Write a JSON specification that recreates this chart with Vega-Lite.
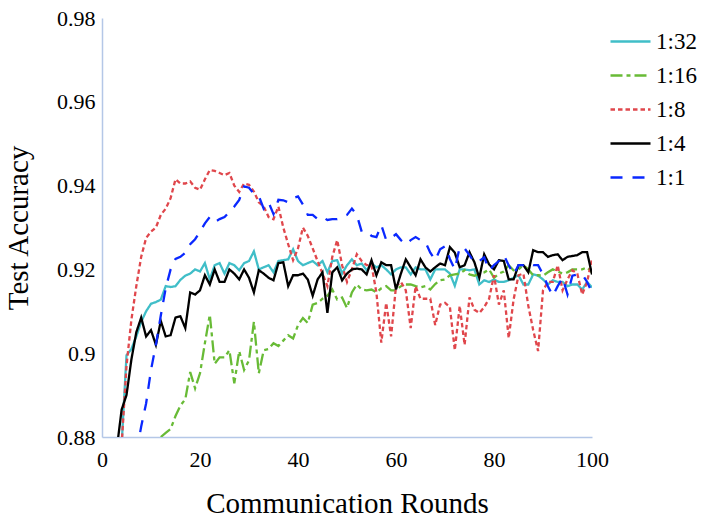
{
  "$schema": "https://vega.github.io/schema/vega-lite/v6.json",
  "width": 490,
  "height": 419,
  "autosize": {"type": "none"},
  "padding": {"left": 102, "top": 18, "right": 114, "bottom": 84},
  "background": "#ffffff",
  "config": {
    "font": "Liberation Serif",
    "view": {"stroke": null},
    "axis": {
      "domainColor": "#b4c7e7",
      "domainWidth": 1.5,
      "ticks": false,
      "grid": false,
      "labelFont": "Liberation Serif",
      "labelFontSize": 22,
      "labelColor": "#000000",
      "titleFont": "Liberation Serif",
      "titleFontSize": 29,
      "titleFontWeight": "normal",
      "titleColor": "#000000"
    },
    "legend": {
      "labelFont": "Liberation Serif",
      "labelFontSize": 23,
      "labelColor": "#000000"
    }
  },
  "data": {
    "values": [
      {"ratio":"1:32","round":4,"acc":0.878},{"ratio":"1:32","round":5,"acc":0.8995},{"ratio":"1:32","round":6,"acc":0.901},{"ratio":"1:32","round":7,"acc":0.904},{"ratio":"1:32","round":8,"acc":0.9075},{"ratio":"1:32","round":9,"acc":0.91},{"ratio":"1:32","round":10,"acc":0.9118},{"ratio":"1:32","round":11,"acc":0.9122},{"ratio":"1:32","round":12,"acc":0.9128},{"ratio":"1:32","round":13,"acc":0.916},{"ratio":"1:32","round":14,"acc":0.9158},{"ratio":"1:32","round":15,"acc":0.916},{"ratio":"1:32","round":16,"acc":0.9175},{"ratio":"1:32","round":17,"acc":0.9185},{"ratio":"1:32","round":18,"acc":0.919},{"ratio":"1:32","round":19,"acc":0.92},{"ratio":"1:32","round":20,"acc":0.9195},{"ratio":"1:32","round":21,"acc":0.9215},{"ratio":"1:32","round":22,"acc":0.9176},{"ratio":"1:32","round":23,"acc":0.921},{"ratio":"1:32","round":24,"acc":0.9215},{"ratio":"1:32","round":25,"acc":0.919},{"ratio":"1:32","round":26,"acc":0.9215},{"ratio":"1:32","round":27,"acc":0.921},{"ratio":"1:32","round":28,"acc":0.9198},{"ratio":"1:32","round":29,"acc":0.9215},{"ratio":"1:32","round":30,"acc":0.922},{"ratio":"1:32","round":31,"acc":0.9243},{"ratio":"1:32","round":32,"acc":0.92},{"ratio":"1:32","round":33,"acc":0.9205},{"ratio":"1:32","round":34,"acc":0.921},{"ratio":"1:32","round":35,"acc":0.9193},{"ratio":"1:32","round":36,"acc":0.922},{"ratio":"1:32","round":37,"acc":0.9222},{"ratio":"1:32","round":38,"acc":0.9224},{"ratio":"1:32","round":39,"acc":0.9248},{"ratio":"1:32","round":40,"acc":0.922},{"ratio":"1:32","round":41,"acc":0.921},{"ratio":"1:32","round":42,"acc":0.9215},{"ratio":"1:32","round":43,"acc":0.922},{"ratio":"1:32","round":44,"acc":0.921},{"ratio":"1:32","round":45,"acc":0.922},{"ratio":"1:32","round":46,"acc":0.9193},{"ratio":"1:32","round":47,"acc":0.922},{"ratio":"1:32","round":48,"acc":0.9222},{"ratio":"1:32","round":49,"acc":0.919},{"ratio":"1:32","round":50,"acc":0.921},{"ratio":"1:32","round":51,"acc":0.9224},{"ratio":"1:32","round":52,"acc":0.921},{"ratio":"1:32","round":53,"acc":0.9214},{"ratio":"1:32","round":54,"acc":0.9198},{"ratio":"1:32","round":55,"acc":0.9214},{"ratio":"1:32","round":56,"acc":0.9205},{"ratio":"1:32","round":57,"acc":0.921},{"ratio":"1:32","round":58,"acc":0.92},{"ratio":"1:32","round":59,"acc":0.9188},{"ratio":"1:32","round":60,"acc":0.92},{"ratio":"1:32","round":61,"acc":0.9205},{"ratio":"1:32","round":62,"acc":0.9205},{"ratio":"1:32","round":63,"acc":0.9188},{"ratio":"1:32","round":64,"acc":0.9205},{"ratio":"1:32","round":65,"acc":0.92},{"ratio":"1:32","round":66,"acc":0.92},{"ratio":"1:32","round":67,"acc":0.9176},{"ratio":"1:32","round":68,"acc":0.92},{"ratio":"1:32","round":69,"acc":0.92},{"ratio":"1:32","round":70,"acc":0.92},{"ratio":"1:32","round":71,"acc":0.919},{"ratio":"1:32","round":72,"acc":0.9161},{"ratio":"1:32","round":73,"acc":0.92},{"ratio":"1:32","round":74,"acc":0.92},{"ratio":"1:32","round":75,"acc":0.9198},{"ratio":"1:32","round":76,"acc":0.92},{"ratio":"1:32","round":77,"acc":0.9164},{"ratio":"1:32","round":78,"acc":0.9174},{"ratio":"1:32","round":79,"acc":0.917},{"ratio":"1:32","round":80,"acc":0.9176},{"ratio":"1:32","round":81,"acc":0.917},{"ratio":"1:32","round":82,"acc":0.917},{"ratio":"1:32","round":83,"acc":0.9174},{"ratio":"1:32","round":84,"acc":0.918},{"ratio":"1:32","round":85,"acc":0.9186},{"ratio":"1:32","round":86,"acc":0.9164},{"ratio":"1:32","round":87,"acc":0.9164},{"ratio":"1:32","round":88,"acc":0.9188},{"ratio":"1:32","round":89,"acc":0.9185},{"ratio":"1:32","round":90,"acc":0.9176},{"ratio":"1:32","round":91,"acc":0.9164},{"ratio":"1:32","round":92,"acc":0.9174},{"ratio":"1:32","round":93,"acc":0.917},{"ratio":"1:32","round":94,"acc":0.917},{"ratio":"1:32","round":95,"acc":0.916},{"ratio":"1:32","round":96,"acc":0.9164},{"ratio":"1:32","round":97,"acc":0.9164},{"ratio":"1:32","round":98,"acc":0.9152},{"ratio":"1:32","round":99,"acc":0.917},{"ratio":"1:32","round":100,"acc":0.9157},

      {"ratio":"1:16","round":12,"acc":0.88},{"ratio":"1:16","round":13,"acc":0.881},{"ratio":"1:16","round":14,"acc":0.8819},{"ratio":"1:16","round":15,"acc":0.885},{"ratio":"1:16","round":16,"acc":0.8875},{"ratio":"1:16","round":17,"acc":0.889},{"ratio":"1:16","round":18,"acc":0.8955},{"ratio":"1:16","round":19,"acc":0.8916},{"ratio":"1:16","round":20,"acc":0.8952},{"ratio":"1:16","round":21,"acc":0.9024},{"ratio":"1:16","round":22,"acc":0.9092},{"ratio":"1:16","round":23,"acc":0.8975},{"ratio":"1:16","round":24,"acc":0.899},{"ratio":"1:16","round":25,"acc":0.899},{"ratio":"1:16","round":26,"acc":0.9007},{"ratio":"1:16","round":27,"acc":0.8928},{"ratio":"1:16","round":28,"acc":0.9005},{"ratio":"1:16","round":29,"acc":0.896},{"ratio":"1:16","round":30,"acc":0.8983},{"ratio":"1:16","round":31,"acc":0.9075},{"ratio":"1:16","round":32,"acc":0.8952},{"ratio":"1:16","round":33,"acc":0.9007},{"ratio":"1:16","round":34,"acc":0.901},{"ratio":"1:16","round":35,"acc":0.9024},{"ratio":"1:16","round":36,"acc":0.9017},{"ratio":"1:16","round":37,"acc":0.903},{"ratio":"1:16","round":38,"acc":0.9043},{"ratio":"1:16","round":39,"acc":0.9035},{"ratio":"1:16","round":40,"acc":0.9067},{"ratio":"1:16","round":41,"acc":0.9084},{"ratio":"1:16","round":42,"acc":0.9072},{"ratio":"1:16","round":43,"acc":0.9116},{"ratio":"1:16","round":44,"acc":0.912},{"ratio":"1:16","round":45,"acc":0.913},{"ratio":"1:16","round":46,"acc":0.9137},{"ratio":"1:16","round":47,"acc":0.9152},{"ratio":"1:16","round":48,"acc":0.9128},{"ratio":"1:16","round":49,"acc":0.9133},{"ratio":"1:16","round":50,"acc":0.9108},{"ratio":"1:16","round":51,"acc":0.9145},{"ratio":"1:16","round":52,"acc":0.9164},{"ratio":"1:16","round":53,"acc":0.9152},{"ratio":"1:16","round":54,"acc":0.915},{"ratio":"1:16","round":55,"acc":0.9152},{"ratio":"1:16","round":56,"acc":0.9145},{"ratio":"1:16","round":57,"acc":0.9155},{"ratio":"1:16","round":58,"acc":0.916},{"ratio":"1:16","round":59,"acc":0.915},{"ratio":"1:16","round":60,"acc":0.915},{"ratio":"1:16","round":61,"acc":0.916},{"ratio":"1:16","round":62,"acc":0.9164},{"ratio":"1:16","round":63,"acc":0.9164},{"ratio":"1:16","round":64,"acc":0.916},{"ratio":"1:16","round":65,"acc":0.9157},{"ratio":"1:16","round":66,"acc":0.916},{"ratio":"1:16","round":67,"acc":0.9152},{"ratio":"1:16","round":68,"acc":0.9165},{"ratio":"1:16","round":69,"acc":0.9174},{"ratio":"1:16","round":70,"acc":0.9176},{"ratio":"1:16","round":71,"acc":0.9186},{"ratio":"1:16","round":72,"acc":0.9188},{"ratio":"1:16","round":73,"acc":0.919},{"ratio":"1:16","round":74,"acc":0.9198},{"ratio":"1:16","round":75,"acc":0.9188},{"ratio":"1:16","round":76,"acc":0.9185},{"ratio":"1:16","round":77,"acc":0.919},{"ratio":"1:16","round":78,"acc":0.9193},{"ratio":"1:16","round":79,"acc":0.92},{"ratio":"1:16","round":80,"acc":0.918},{"ratio":"1:16","round":81,"acc":0.919},{"ratio":"1:16","round":82,"acc":0.9195},{"ratio":"1:16","round":83,"acc":0.921},{"ratio":"1:16","round":84,"acc":0.9198},{"ratio":"1:16","round":85,"acc":0.92},{"ratio":"1:16","round":86,"acc":0.921},{"ratio":"1:16","round":87,"acc":0.92},{"ratio":"1:16","round":88,"acc":0.9186},{"ratio":"1:16","round":89,"acc":0.9186},{"ratio":"1:16","round":90,"acc":0.9185},{"ratio":"1:16","round":91,"acc":0.9193},{"ratio":"1:16","round":92,"acc":0.92},{"ratio":"1:16","round":93,"acc":0.9195},{"ratio":"1:16","round":94,"acc":0.919},{"ratio":"1:16","round":95,"acc":0.9193},{"ratio":"1:16","round":96,"acc":0.92},{"ratio":"1:16","round":97,"acc":0.92},{"ratio":"1:16","round":98,"acc":0.92},{"ratio":"1:16","round":99,"acc":0.9205},{"ratio":"1:16","round":100,"acc":0.9193},

      {"ratio":"1:8","round":4,"acc":0.878},{"ratio":"1:8","round":5,"acc":0.897},{"ratio":"1:8","round":6,"acc":0.908},{"ratio":"1:8","round":7,"acc":0.916},{"ratio":"1:8","round":8,"acc":0.923},{"ratio":"1:8","round":9,"acc":0.9275},{"ratio":"1:8","round":10,"acc":0.929},{"ratio":"1:8","round":11,"acc":0.93},{"ratio":"1:8","round":12,"acc":0.933},{"ratio":"1:8","round":13,"acc":0.9345},{"ratio":"1:8","round":14,"acc":0.937},{"ratio":"1:8","round":15,"acc":0.9415},{"ratio":"1:8","round":16,"acc":0.9405},{"ratio":"1:8","round":17,"acc":0.9405},{"ratio":"1:8","round":18,"acc":0.941},{"ratio":"1:8","round":19,"acc":0.9395},{"ratio":"1:8","round":20,"acc":0.939},{"ratio":"1:8","round":21,"acc":0.9415},{"ratio":"1:8","round":22,"acc":0.9437},{"ratio":"1:8","round":23,"acc":0.9435},{"ratio":"1:8","round":24,"acc":0.943},{"ratio":"1:8","round":25,"acc":0.9425},{"ratio":"1:8","round":26,"acc":0.943},{"ratio":"1:8","round":27,"acc":0.94},{"ratio":"1:8","round":28,"acc":0.9385},{"ratio":"1:8","round":29,"acc":0.9405},{"ratio":"1:8","round":30,"acc":0.9402},{"ratio":"1:8","round":31,"acc":0.9386},{"ratio":"1:8","round":32,"acc":0.936},{"ratio":"1:8","round":33,"acc":0.935},{"ratio":"1:8","round":34,"acc":0.9325},{"ratio":"1:8","round":35,"acc":0.932},{"ratio":"1:8","round":36,"acc":0.935},{"ratio":"1:8","round":37,"acc":0.93},{"ratio":"1:8","round":38,"acc":0.926},{"ratio":"1:8","round":39,"acc":0.9222},{"ratio":"1:8","round":40,"acc":0.925},{"ratio":"1:8","round":41,"acc":0.93},{"ratio":"1:8","round":42,"acc":0.928},{"ratio":"1:8","round":43,"acc":0.925},{"ratio":"1:8","round":44,"acc":0.922},{"ratio":"1:8","round":45,"acc":0.919},{"ratio":"1:8","round":46,"acc":0.916},{"ratio":"1:8","round":47,"acc":0.923},{"ratio":"1:8","round":48,"acc":0.927},{"ratio":"1:8","round":49,"acc":0.921},{"ratio":"1:8","round":50,"acc":0.917},{"ratio":"1:8","round":51,"acc":0.92},{"ratio":"1:8","round":52,"acc":0.9236},{"ratio":"1:8","round":53,"acc":0.922},{"ratio":"1:8","round":54,"acc":0.921},{"ratio":"1:8","round":55,"acc":0.921},{"ratio":"1:8","round":56,"acc":0.9145},{"ratio":"1:8","round":57,"acc":0.9025},{"ratio":"1:8","round":58,"acc":0.912},{"ratio":"1:8","round":59,"acc":0.904},{"ratio":"1:8","round":60,"acc":0.916},{"ratio":"1:8","round":61,"acc":0.917},{"ratio":"1:8","round":62,"acc":0.915},{"ratio":"1:8","round":63,"acc":0.906},{"ratio":"1:8","round":64,"acc":0.916},{"ratio":"1:8","round":65,"acc":0.913},{"ratio":"1:8","round":66,"acc":0.913},{"ratio":"1:8","round":67,"acc":0.913},{"ratio":"1:8","round":68,"acc":0.9067},{"ratio":"1:8","round":69,"acc":0.9116},{"ratio":"1:8","round":70,"acc":0.912},{"ratio":"1:8","round":71,"acc":0.911},{"ratio":"1:8","round":72,"acc":0.9007},{"ratio":"1:8","round":73,"acc":0.9113},{"ratio":"1:8","round":74,"acc":0.902},{"ratio":"1:8","round":75,"acc":0.9133},{"ratio":"1:8","round":76,"acc":0.9104},{"ratio":"1:8","round":77,"acc":0.9096},{"ratio":"1:8","round":78,"acc":0.911},{"ratio":"1:8","round":79,"acc":0.913},{"ratio":"1:8","round":80,"acc":0.9186},{"ratio":"1:8","round":81,"acc":0.9116},{"ratio":"1:8","round":82,"acc":0.915},{"ratio":"1:8","round":83,"acc":0.9036},{"ratio":"1:8","round":84,"acc":0.9128},{"ratio":"1:8","round":85,"acc":0.9186},{"ratio":"1:8","round":86,"acc":0.919},{"ratio":"1:8","round":87,"acc":0.9113},{"ratio":"1:8","round":88,"acc":0.9055},{"ratio":"1:8","round":89,"acc":0.9005},{"ratio":"1:8","round":90,"acc":0.915},{"ratio":"1:8","round":91,"acc":0.917},{"ratio":"1:8","round":92,"acc":0.917},{"ratio":"1:8","round":93,"acc":0.921},{"ratio":"1:8","round":94,"acc":0.915},{"ratio":"1:8","round":95,"acc":0.9176},{"ratio":"1:8","round":96,"acc":0.9198},{"ratio":"1:8","round":97,"acc":0.919},{"ratio":"1:8","round":98,"acc":0.914},{"ratio":"1:8","round":99,"acc":0.917},{"ratio":"1:8","round":100,"acc":0.9225},

      {"ratio":"1:4","round":3,"acc":0.877},{"ratio":"1:4","round":4,"acc":0.8865},{"ratio":"1:4","round":5,"acc":0.89},{"ratio":"1:4","round":6,"acc":0.8985},{"ratio":"1:4","round":7,"acc":0.905},{"ratio":"1:4","round":8,"acc":0.9085},{"ratio":"1:4","round":9,"acc":0.904},{"ratio":"1:4","round":10,"acc":0.9055},{"ratio":"1:4","round":11,"acc":0.902},{"ratio":"1:4","round":12,"acc":0.9077},{"ratio":"1:4","round":13,"acc":0.904},{"ratio":"1:4","round":14,"acc":0.9043},{"ratio":"1:4","round":15,"acc":0.9085},{"ratio":"1:4","round":16,"acc":0.9088},{"ratio":"1:4","round":17,"acc":0.906},{"ratio":"1:4","round":18,"acc":0.9145},{"ratio":"1:4","round":19,"acc":0.914},{"ratio":"1:4","round":20,"acc":0.915},{"ratio":"1:4","round":21,"acc":0.9186},{"ratio":"1:4","round":22,"acc":0.9164},{"ratio":"1:4","round":23,"acc":0.92},{"ratio":"1:4","round":24,"acc":0.917},{"ratio":"1:4","round":25,"acc":0.917},{"ratio":"1:4","round":26,"acc":0.92},{"ratio":"1:4","round":27,"acc":0.919},{"ratio":"1:4","round":28,"acc":0.9176},{"ratio":"1:4","round":29,"acc":0.92},{"ratio":"1:4","round":30,"acc":0.918},{"ratio":"1:4","round":31,"acc":0.9145},{"ratio":"1:4","round":32,"acc":0.9198},{"ratio":"1:4","round":33,"acc":0.919},{"ratio":"1:4","round":34,"acc":0.918},{"ratio":"1:4","round":35,"acc":0.9174},{"ratio":"1:4","round":36,"acc":0.9215},{"ratio":"1:4","round":37,"acc":0.9217},{"ratio":"1:4","round":38,"acc":0.916},{"ratio":"1:4","round":39,"acc":0.9186},{"ratio":"1:4","round":40,"acc":0.9186},{"ratio":"1:4","round":41,"acc":0.919},{"ratio":"1:4","round":42,"acc":0.9176},{"ratio":"1:4","round":43,"acc":0.9137},{"ratio":"1:4","round":44,"acc":0.9176},{"ratio":"1:4","round":45,"acc":0.9193},{"ratio":"1:4","round":46,"acc":0.9096},{"ratio":"1:4","round":47,"acc":0.9193},{"ratio":"1:4","round":48,"acc":0.9205},{"ratio":"1:4","round":49,"acc":0.9174},{"ratio":"1:4","round":50,"acc":0.919},{"ratio":"1:4","round":51,"acc":0.92},{"ratio":"1:4","round":52,"acc":0.9202},{"ratio":"1:4","round":53,"acc":0.92},{"ratio":"1:4","round":54,"acc":0.9188},{"ratio":"1:4","round":55,"acc":0.9222},{"ratio":"1:4","round":56,"acc":0.9186},{"ratio":"1:4","round":57,"acc":0.9217},{"ratio":"1:4","round":58,"acc":0.921},{"ratio":"1:4","round":59,"acc":0.921},{"ratio":"1:4","round":60,"acc":0.9152},{"ratio":"1:4","round":61,"acc":0.919},{"ratio":"1:4","round":62,"acc":0.9224},{"ratio":"1:4","round":63,"acc":0.9205},{"ratio":"1:4","round":64,"acc":0.9186},{"ratio":"1:4","round":65,"acc":0.9224},{"ratio":"1:4","round":66,"acc":0.9205},{"ratio":"1:4","round":67,"acc":0.9195},{"ratio":"1:4","round":68,"acc":0.9205},{"ratio":"1:4","round":69,"acc":0.9214},{"ratio":"1:4","round":70,"acc":0.921},{"ratio":"1:4","round":71,"acc":0.9253},{"ratio":"1:4","round":72,"acc":0.924},{"ratio":"1:4","round":73,"acc":0.9205},{"ratio":"1:4","round":74,"acc":0.921},{"ratio":"1:4","round":75,"acc":0.9241},{"ratio":"1:4","round":76,"acc":0.9217},{"ratio":"1:4","round":77,"acc":0.918},{"ratio":"1:4","round":78,"acc":0.9236},{"ratio":"1:4","round":79,"acc":0.9212},{"ratio":"1:4","round":80,"acc":0.92},{"ratio":"1:4","round":81,"acc":0.9222},{"ratio":"1:4","round":82,"acc":0.922},{"ratio":"1:4","round":83,"acc":0.9176},{"ratio":"1:4","round":84,"acc":0.9176},{"ratio":"1:4","round":85,"acc":0.921},{"ratio":"1:4","round":86,"acc":0.921},{"ratio":"1:4","round":87,"acc":0.9193},{"ratio":"1:4","round":88,"acc":0.9246},{"ratio":"1:4","round":89,"acc":0.9241},{"ratio":"1:4","round":90,"acc":0.9241},{"ratio":"1:4","round":91,"acc":0.923},{"ratio":"1:4","round":92,"acc":0.9234},{"ratio":"1:4","round":93,"acc":0.9236},{"ratio":"1:4","round":94,"acc":0.9222},{"ratio":"1:4","round":95,"acc":0.923},{"ratio":"1:4","round":96,"acc":0.9232},{"ratio":"1:4","round":97,"acc":0.9234},{"ratio":"1:4","round":98,"acc":0.9241},{"ratio":"1:4","round":99,"acc":0.9241},{"ratio":"1:4","round":100,"acc":0.9188},

      {"ratio":"1:1","round":7,"acc":0.876},{"ratio":"1:1","round":8,"acc":0.8825},{"ratio":"1:1","round":9,"acc":0.888},{"ratio":"1:1","round":10,"acc":0.896},{"ratio":"1:1","round":11,"acc":0.902},{"ratio":"1:1","round":12,"acc":0.909},{"ratio":"1:1","round":13,"acc":0.9155},{"ratio":"1:1","round":14,"acc":0.92},{"ratio":"1:1","round":15,"acc":0.9225},{"ratio":"1:1","round":16,"acc":0.923},{"ratio":"1:1","round":17,"acc":0.924},{"ratio":"1:1","round":18,"acc":0.926},{"ratio":"1:1","round":19,"acc":0.9272},{"ratio":"1:1","round":20,"acc":0.929},{"ratio":"1:1","round":21,"acc":0.931},{"ratio":"1:1","round":22,"acc":0.9325},{"ratio":"1:1","round":23,"acc":0.9313},{"ratio":"1:1","round":24,"acc":0.932},{"ratio":"1:1","round":25,"acc":0.9325},{"ratio":"1:1","round":26,"acc":0.9337},{"ratio":"1:1","round":27,"acc":0.935},{"ratio":"1:1","round":28,"acc":0.9366},{"ratio":"1:1","round":29,"acc":0.9398},{"ratio":"1:1","round":30,"acc":0.9395},{"ratio":"1:1","round":31,"acc":0.938},{"ratio":"1:1","round":32,"acc":0.9375},{"ratio":"1:1","round":33,"acc":0.9345},{"ratio":"1:1","round":34,"acc":0.936},{"ratio":"1:1","round":35,"acc":0.9332},{"ratio":"1:1","round":36,"acc":0.9366},{"ratio":"1:1","round":37,"acc":0.9365},{"ratio":"1:1","round":38,"acc":0.936},{"ratio":"1:1","round":39,"acc":0.937},{"ratio":"1:1","round":40,"acc":0.9374},{"ratio":"1:1","round":41,"acc":0.9355},{"ratio":"1:1","round":42,"acc":0.933},{"ratio":"1:1","round":43,"acc":0.933},{"ratio":"1:1","round":44,"acc":0.932},{"ratio":"1:1","round":45,"acc":0.9325},{"ratio":"1:1","round":46,"acc":0.9318},{"ratio":"1:1","round":47,"acc":0.932},{"ratio":"1:1","round":48,"acc":0.932},{"ratio":"1:1","round":49,"acc":0.9325},{"ratio":"1:1","round":50,"acc":0.933},{"ratio":"1:1","round":51,"acc":0.9345},{"ratio":"1:1","round":52,"acc":0.933},{"ratio":"1:1","round":53,"acc":0.929},{"ratio":"1:1","round":54,"acc":0.929},{"ratio":"1:1","round":55,"acc":0.928},{"ratio":"1:1","round":56,"acc":0.9277},{"ratio":"1:1","round":57,"acc":0.9306},{"ratio":"1:1","round":58,"acc":0.927},{"ratio":"1:1","round":59,"acc":0.9275},{"ratio":"1:1","round":60,"acc":0.9284},{"ratio":"1:1","round":61,"acc":0.927},{"ratio":"1:1","round":62,"acc":0.926},{"ratio":"1:1","round":63,"acc":0.927},{"ratio":"1:1","round":64,"acc":0.9277},{"ratio":"1:1","round":65,"acc":0.927},{"ratio":"1:1","round":66,"acc":0.9265},{"ratio":"1:1","round":67,"acc":0.924},{"ratio":"1:1","round":68,"acc":0.9222},{"ratio":"1:1","round":69,"acc":0.9248},{"ratio":"1:1","round":70,"acc":0.9255},{"ratio":"1:1","round":71,"acc":0.9225},{"ratio":"1:1","round":72,"acc":0.92},{"ratio":"1:1","round":73,"acc":0.9253},{"ratio":"1:1","round":74,"acc":0.925},{"ratio":"1:1","round":75,"acc":0.9234},{"ratio":"1:1","round":76,"acc":0.9217},{"ratio":"1:1","round":77,"acc":0.922},{"ratio":"1:1","round":78,"acc":0.9229},{"ratio":"1:1","round":79,"acc":0.9198},{"ratio":"1:1","round":80,"acc":0.921},{"ratio":"1:1","round":81,"acc":0.922},{"ratio":"1:1","round":82,"acc":0.9234},{"ratio":"1:1","round":83,"acc":0.921},{"ratio":"1:1","round":84,"acc":0.9188},{"ratio":"1:1","round":85,"acc":0.921},{"ratio":"1:1","round":86,"acc":0.921},{"ratio":"1:1","round":87,"acc":0.9215},{"ratio":"1:1","round":88,"acc":0.921},{"ratio":"1:1","round":89,"acc":0.921},{"ratio":"1:1","round":90,"acc":0.9188},{"ratio":"1:1","round":91,"acc":0.916},{"ratio":"1:1","round":92,"acc":0.9137},{"ratio":"1:1","round":93,"acc":0.916},{"ratio":"1:1","round":94,"acc":0.918},{"ratio":"1:1","round":95,"acc":0.914},{"ratio":"1:1","round":96,"acc":0.9185},{"ratio":"1:1","round":97,"acc":0.9188},{"ratio":"1:1","round":98,"acc":0.9188},{"ratio":"1:1","round":99,"acc":0.917},{"ratio":"1:1","round":100,"acc":0.9145}
    ]
  },
  "mark": {"type": "line", "strokeWidth": 2.3, "clip": true, "strokeCap": "butt"},
  "encoding": {
    "x": {
      "field": "round",
      "type": "quantitative",
      "title": "Communication Rounds",
      "scale": {"domain": [0, 100], "nice": false},
      "axis": {"values": [0, 20, 40, 60, 80, 100], "labelPadding": 12, "titlePadding": 19, "labelFlush": false}
    },
    "y": {
      "field": "acc",
      "type": "quantitative",
      "title": "Test Accuracy",
      "scale": {"domain": [0.88, 0.98], "nice": false, "zero": false},
      "axis": {"values": [0.88, 0.9, 0.92, 0.94, 0.96, 0.98], "format": ".2~f", "labelPadding": 7, "titlePadding": 23, "labelFlush": false}
    },
    "color": {
      "field": "ratio",
      "type": "nominal",
      "scale": {
        "domain": ["1:32", "1:16", "1:8", "1:4", "1:1"],
        "range": ["#40bec8", "#68bb36", "#e0474c", "#000000", "#0a28ff"]
      },
      "legend": {
        "title": null,
        "orient": "none",
        "legendX": 507,
        "legendY": 2,
        "symbolType": "stroke",
        "symbolSize": 1600,
        "symbolStrokeWidth": 2.5,
        "labelOffset": 4,
        "rowPadding": -8.3
      }
    },
    "strokeDash": {
      "field": "ratio",
      "type": "nominal",
      "scale": {
        "domain": ["1:32", "1:16", "1:8", "1:4", "1:1"],
        "range": [[1, 0], [12, 4, 4, 4], [4.5, 3], [1, 0], [12, 10]]
      },
      "legend": null
    }
  }
}
